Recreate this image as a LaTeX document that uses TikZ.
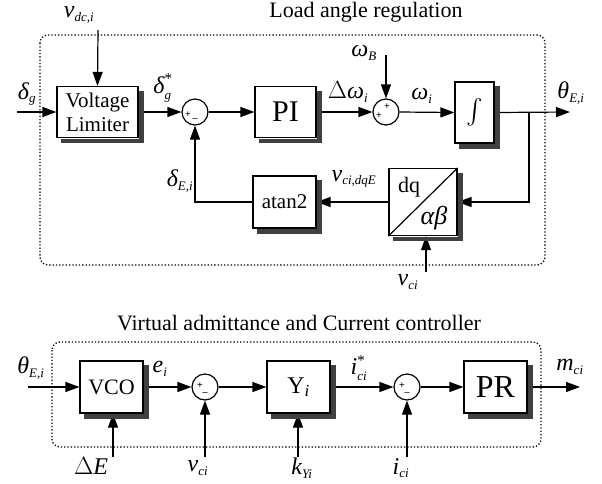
\documentclass[tikz,border=0pt]{standalone}
\usepackage{amsmath}
\usepackage{fontspec}
\setmainfont{Liberation Serif}
\usetikzlibrary{arrows.meta}
\newcommand{\vv}[1]{\textit{#1}}
\newcommand{\subt}[1]{\mbox{\fontsize{13}{13}\selectfont\itshape #1}}
\newcommand{\supt}{\mbox{\fontsize{15}{15}\selectfont *}}
\begin{document}
\begin{tikzpicture}[x=1pt,y=-1pt,line width=1.2pt,
  blk/.style={draw,fill=white,line width=1.2pt,inner sep=0pt},
  shd/.style={draw=black!75,line width=4.4pt,line cap=butt,line join=miter},
  sumc/.style={circle,draw,fill=white,minimum size=26pt,inner sep=0pt},
  arr/.style={-{Triangle[length=14pt,width=10pt]}},
  lbl/.style={font=\fontsize{24}{26}\selectfont,inner sep=0pt},
  ttl/.style={font=\fontsize{22}{24}\selectfont,inner sep=0pt},
  sgn/.style={font=\fontsize{10}{10}\selectfont\bfseries,inner sep=0pt},
  frame/.style={dotted,line width=1.3pt,rounded corners=8pt}]
\useasboundingbox (0,0) rectangle (602,483);

% ---------- Load angle regulation ----------
\draw[frame] (40,35) rectangle (545,265);
\node[ttl] (t1) at (366,12) {Load angle regulation};

\node[blk,minimum width=81pt,minimum height=51pt,align=center,font=\fontsize{21}{24}\selectfont] (vl) at (97.5,112) {Voltage\\Limiter};
\node[sumc] (s1) at (195,112) {};
\node[sgn] (s1p) at (188,115) {+};
\node[sgn] (s1m) at (195,120) {--};
\node[blk,minimum width=61pt,minimum height=51pt,font=\fontsize{30}{30}\selectfont] (pi) at (285.5,112) {PI};
\node[sumc] (s2) at (386,112) {};
\node[sgn] (s2p) at (379,116) {+};
\node[sgn] (s2q) at (387,107) {+};
\node[blk,minimum width=39pt,minimum height=61pt] (integ) at (474.5,112.5) {\fontsize{42}{42}\selectfont$\int$};
\node[blk,minimum width=68pt,minimum height=67pt] (dq) at (423,202) {};
\draw[line width=1.2pt] (dq.south west) -- (dq.north east);
\node[font=\fontsize{22}{22}\selectfont,inner sep=0pt] (dqt) at (409,187) {dq};
\node[font=\fontsize{26}{26}\selectfont,inner sep=0pt] (abt) at (434,218) {\vv{αβ}};
\node[blk,minimum width=63pt,minimum height=52pt,font=\fontsize{21}{21}\selectfont] (atan) at (284.5,202) {atan2};

\coordinate (vdc) at (98,30);
\coordinate (dg) at (17,112);
\coordinate (wB) at (386,55);
\coordinate (out) at (570,112);
\coordinate (br) at (529,112);
\coordinate (vci) at (426,272);

\draw[arr] (vdc) -- (vl.north);
\draw[arr] (dg) -- (vl.west);
\draw[arr] (vl.east) -- (s1.west);
\draw[arr] (s1.east) -- (pi.west);
\draw[arr] (pi.east) -- (s2.west);
\draw[arr] (wB) -- (s2.north);
\draw[arr] (s2.east) -- (integ.west);
\draw[arr] (integ.east) -- (out);
\draw[arr] (br) |- (dq.east);
\draw[arr] (dq.west) -- (atan.east);
\draw[arr] (atan.west) -| (s1.south);
\draw[arr] (vci) -- (vci |- dq.south);

\node[lbl] (lvdc) at (79,15) {$\vv{v}_{\subt{dc,i}}$};
\node[lbl] (ldg) at (27,94) {$\vv{δ}_{\subt{g}}$};
\node[lbl] (ldgs) at (163,88) {$\vv{δ}_{\subt{g}}^{\supt}$};
\node[lbl] (ldw) at (348,92) {$\Delta\vv{ω}_{\subt{i}}$};
\node[lbl] (lwB) at (364,53) {$\vv{ω}_{\subt{B}}$};
\node[lbl] (lwi) at (422,96) {$\vv{ω}_{\subt{i}}$};
\node[lbl] (lth) at (571,93) {$\vv{θ}_{\subt{E,i}}$};
\node[lbl] (lvdq) at (354,179) {$\vv{v}_{\subt{ci,dqE}}$};
\node[lbl] (lde) at (180,181) {$\vv{δ}_{\subt{E,i}}$};
\node[lbl] (lvci) at (408,282) {$\vv{v}_{\subt{ci}}$};

% ---------- Virtual admittance and current controller ----------
\draw[frame] (52,342) rectangle (541,447);
\node[ttl] (t2) at (299,323) {Virtual admittance and Current controller};

\node[blk,minimum width=63pt,minimum height=52pt,font=\fontsize{22}{22}\selectfont] (vco) at (111.5,387) {VCO};
\node[sumc] (s3) at (205,387) {};
\node[sgn] (s3p) at (200,386) {+};
\node[sgn] (s3m) at (205,394) {--};
\node[blk,minimum width=63pt,minimum height=52pt,font=\fontsize{24}{24}\selectfont] (yi) at (298.5,387) {Y\textsubscript{\textit{i}}};
\node[sumc] (s4) at (407,387) {};
\node[sgn] (s4p) at (402,386) {+};
\node[sgn] (s4m) at (407,394) {--};
\node[blk,minimum width=63pt,minimum height=52pt,font=\fontsize{32}{32}\selectfont] (pr) at (495.5,387) {PR};

\coordinate (th) at (28,387);
\coordinate (dE) at (113,457);
\coordinate (vc3) at (205,457);
\coordinate (kY) at (298,457);
\coordinate (ic) at (407,457);
\coordinate (mo) at (580,387);

\draw[arr] (th) -- (vco.west);
\draw[arr] (dE) -- (dE |- vco.south);
\draw[arr] (vco.east) -- (s3.west);
\draw[arr] (vc3) -- (s3.south);
\draw[arr] (s3.east) -- (yi.west);
\draw[arr] (kY) -- (kY |- yi.south);
\draw[arr] (yi.east) -- (s4.west);
\draw[arr] (ic) -- (s4.south);
\draw[arr] (s4.east) -- (pr.west);
\draw[arr] (pr.east) -- (mo);

\node[lbl] (lth2) at (31,368) {$\vv{θ}_{\subt{E,i}}$};
\node[lbl] (lei) at (160,369) {$\vv{e}_{\subt{i}}$};
\node[lbl] (ldE) at (91,466) {$\Delta\vv{E}$};
\node[lbl] (lvc3) at (198,468) {$\vv{v}_{\subt{ci}}$};
\node[lbl] (lkY) at (302,468) {$\vv{k}_{\subt{Yi}}$};
\node[lbl] (lis) at (359,368) {$\vv{i}_{\subt{ci}}^{\supt}$};
\node[lbl] (lic) at (401,468) {$\vv{i}_{\subt{ci}}$};
\node[lbl] (lm) at (570,367) {$\vv{m}_{\subt{ci}}$};

% ---------- box shadows: thick strokes along the right and bottom, outside each box ----------
\foreach \nm in {vl,pi,integ,dq,atan,vco,yi,pr}{
  \draw[shd] ([shift={(2.8pt,-5pt)}]\nm.north east) -- ([shift={(2.8pt,-2.8pt)}]\nm.south east) -- ([shift={(5pt,-2.8pt)}]\nm.south west);
}
\end{tikzpicture}
\end{document}
